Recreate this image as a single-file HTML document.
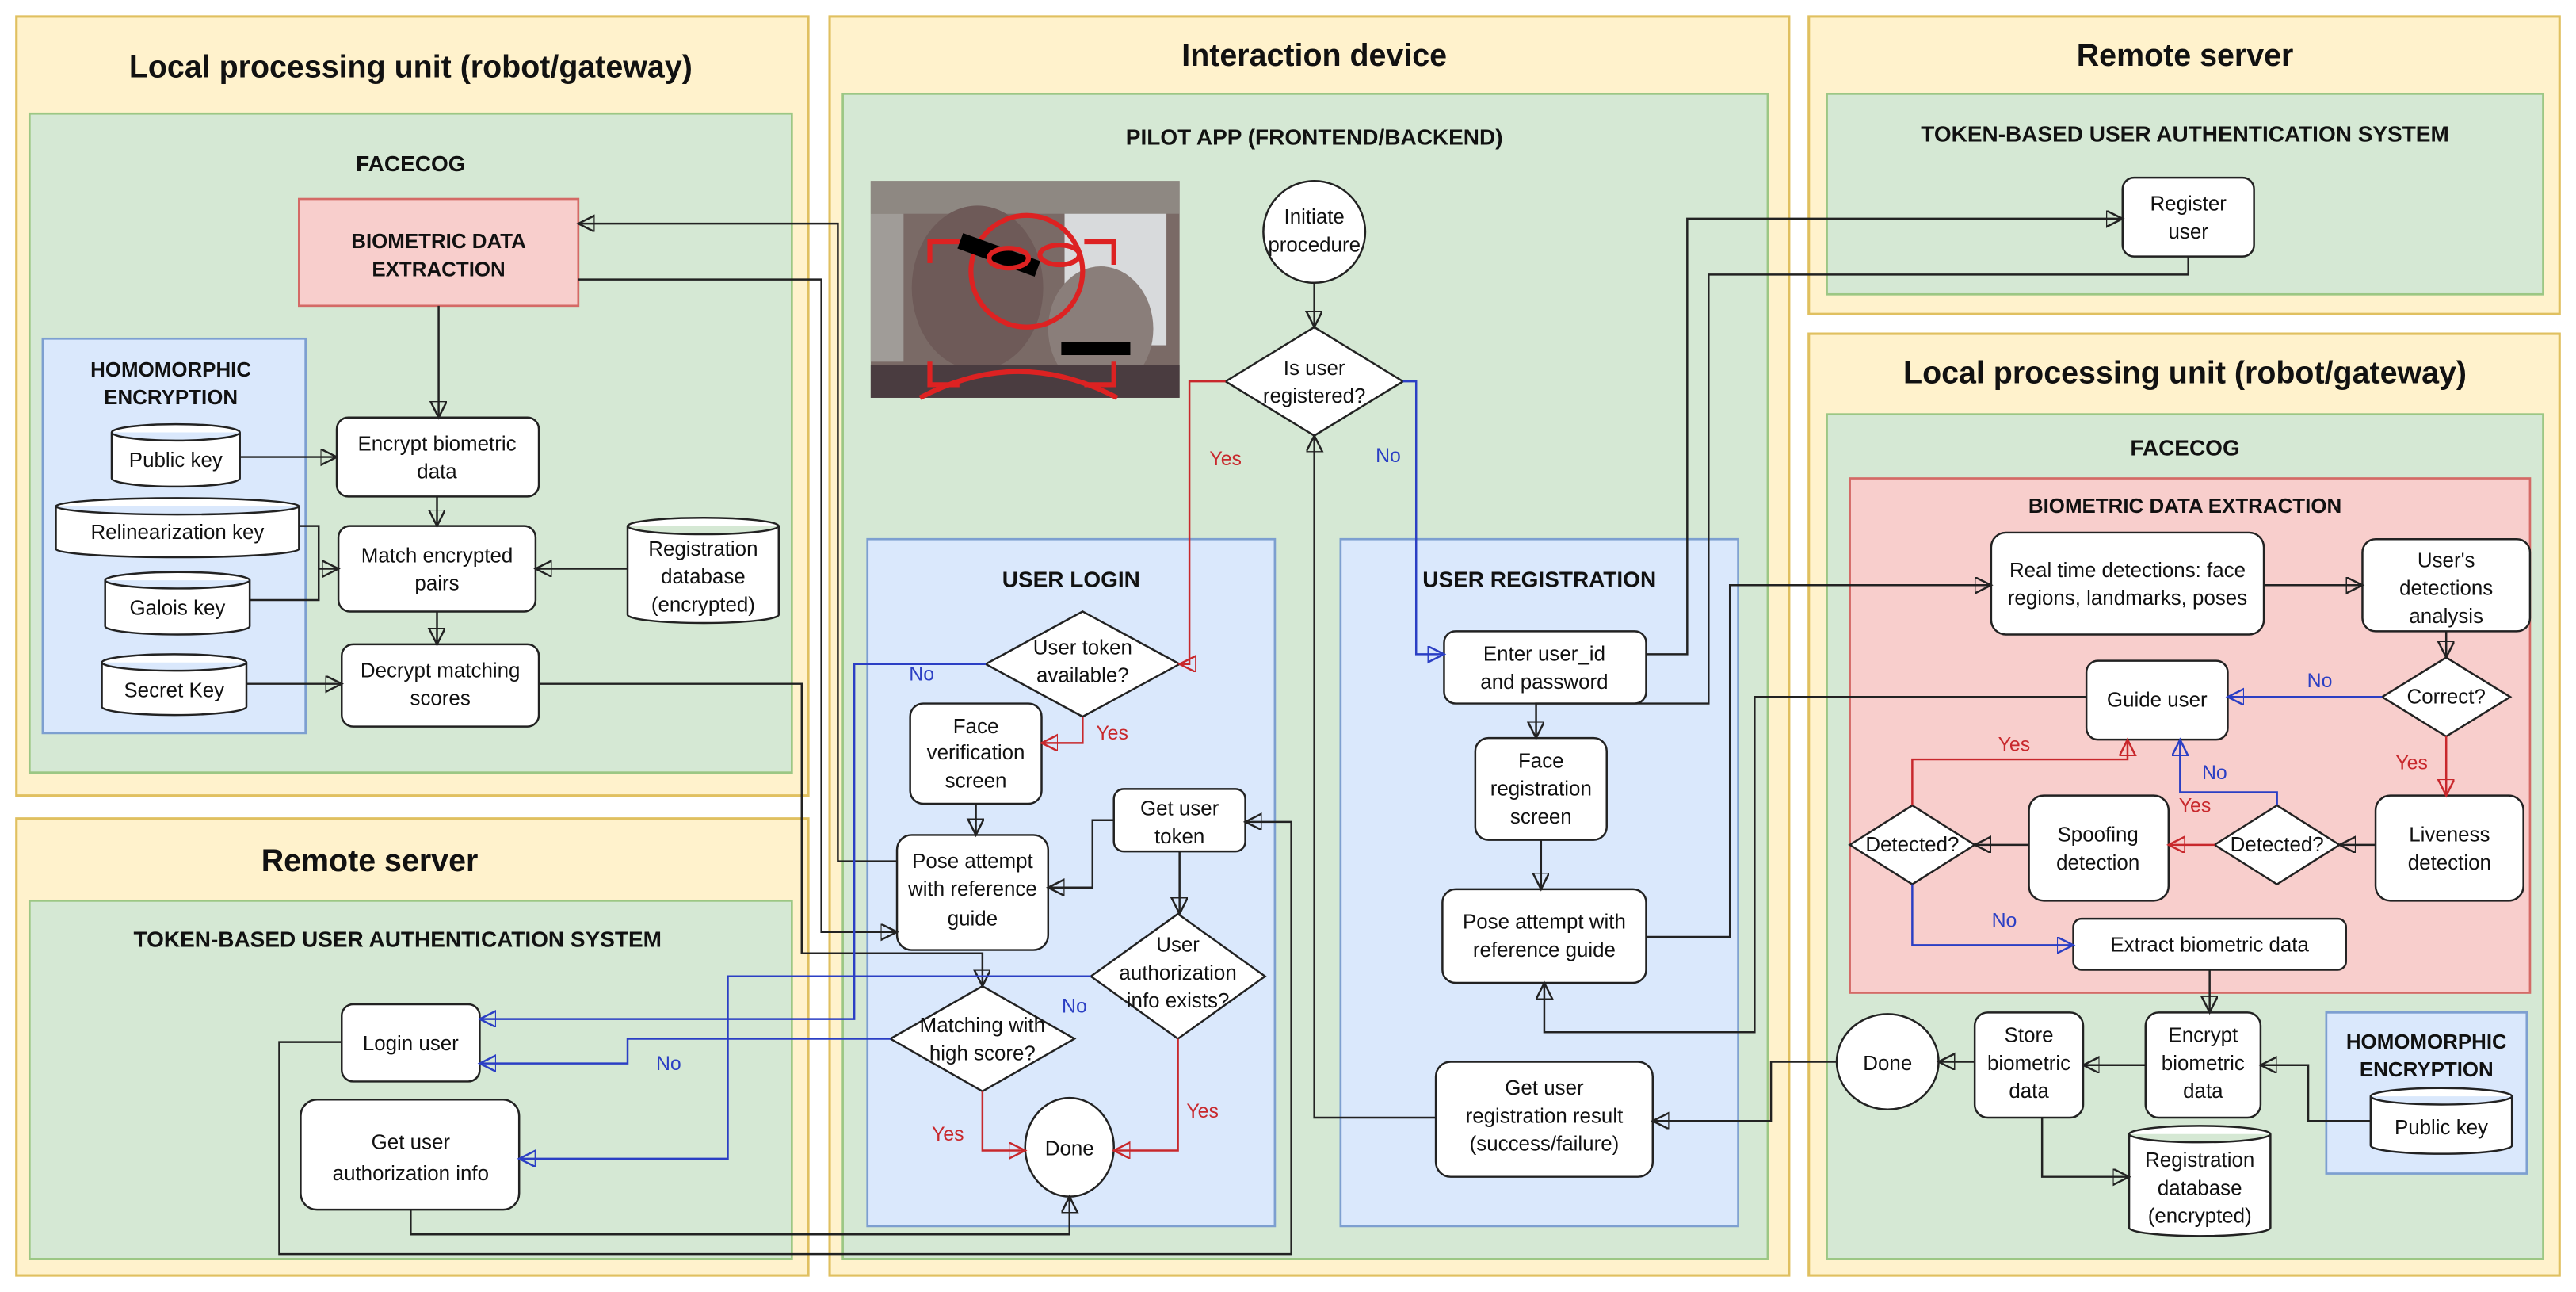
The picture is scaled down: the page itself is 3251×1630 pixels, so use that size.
<!DOCTYPE html>
<html><head><meta charset="utf-8"><style>
html,body{margin:0;padding:0;background:#fff}
svg{display:block}
text{font-family:"Liberation Sans",Arial,sans-serif;fill:#111;text-anchor:middle}
.t1{font-size:19px;font-weight:bold}
.t2{font-size:13.5px;font-weight:bold}
.n{font-size:12.5px}
.y{fill:#c8282c;font-size:12px}
.b{fill:#2b3fc4;font-size:12px}
.yel{fill:#fff2cc;stroke:#e0c060;stroke-width:1.5}
.grn{fill:#d5e8d4;stroke:#9cc784;stroke-width:1.3}
.blu{fill:#dae8fc;stroke:#7d9fd0;stroke-width:1.3}
.pnk{fill:#f8cecc;stroke:#d46a66;stroke-width:1.3}
.nd{fill:#fff;stroke:#222;stroke-width:1.2}
.k{fill:none;stroke:#222;stroke-width:1.2}
.kr{fill:none;stroke:#c8282c;stroke-width:1.2}
.kb{fill:none;stroke:#2b3fc4;stroke-width:1.2}
</style></head><body>
<svg width="3251" height="1630" viewBox="0 0 1568 786" xmlns="http://www.w3.org/2000/svg">
<defs>
<marker id="a" markerUnits="userSpaceOnUse" markerWidth="14" markerHeight="14" refX="10" refY="5" orient="auto"><path d="M0,0 L10,5 L0,10 Z" fill="none" stroke="#222" stroke-width="1.2"/></marker>
<marker id="ar" markerUnits="userSpaceOnUse" markerWidth="14" markerHeight="14" refX="10" refY="5" orient="auto"><path d="M0,0 L10,5 L0,10 Z" fill="none" stroke="#c8282c" stroke-width="1.2"/></marker>
<marker id="ab" markerUnits="userSpaceOnUse" markerWidth="14" markerHeight="14" refX="10" refY="5" orient="auto"><path d="M0,0 L10,5 L0,10 Z" fill="none" stroke="#2b3fc4" stroke-width="1.2"/></marker>
</defs>

<!-- LEFT TOP -->
<rect class="yel" x="10" y="10" width="482" height="474"/>
<text class="t1" x="250" y="47">Local processing unit (robot/gateway)</text>
<rect class="grn" x="18" y="69" width="464" height="401"/>
<text class="t2" x="250" y="104">FACECOG</text>
<rect class="pnk" x="182" y="121" width="170" height="65"/>
<text class="t2" x="267" y="151" style="font-size:12.5px">BIOMETRIC DATA</text>
<text class="t2" x="267" y="168" style="font-size:12.5px">EXTRACTION</text>
<rect class="blu" x="26" y="206" width="160" height="240"/>
<text class="t2" x="104" y="229" style="font-size:12.5px">HOMOMORPHIC</text>
<text class="t2" x="104" y="246" style="font-size:12.5px">ENCRYPTION</text>
<path class="nd" d="M68,263 a39,5 0 0 1 78,0 v28 a39,5 0 0 1 -78,0 Z M68,263 a39,5 0 0 0 78,0"/>
<text class="n" x="107" y="284">Public key</text>
<path class="nd" d="M34,308 a74,5 0 0 1 148,0 v26 a74,5 0 0 1 -148,0 Z M34,308 a74,5 0 0 0 148,0"/>
<text class="n" x="108" y="328">Relinearization key</text>
<path class="nd" d="M64,353 a44,5 0 0 1 88,0 v28 a44,5 0 0 1 -88,0 Z M64,353 a44,5 0 0 0 88,0"/>
<text class="n" x="108" y="374">Galois key</text>
<path class="nd" d="M62,403 a44,5 0 0 1 88,0 v27 a44,5 0 0 1 -88,0 Z M62,403 a44,5 0 0 0 88,0"/>
<text class="n" x="106" y="424">Secret Key</text>
<rect class="nd" x="205" y="254" width="123" height="48" rx="7"/>
<text class="n" x="266" y="274">Encrypt biometric</text><text class="n" x="266" y="291">data</text>
<rect class="nd" x="206" y="320" width="120" height="52" rx="7"/>
<text class="n" x="266" y="342">Match encrypted</text><text class="n" x="266" y="359">pairs</text>
<rect class="nd" x="208" y="392" width="120" height="50" rx="7"/>
<text class="n" x="268" y="412">Decrypt matching</text><text class="n" x="268" y="429">scores</text>
<path class="nd" d="M382,320 a46,5 0 0 1 92,0 v54 a46,5 0 0 1 -92,0 Z M382,320 a46,5 0 0 0 92,0"/>
<text class="n" x="428" y="338">Registration</text><text class="n" x="428" y="355">database</text><text class="n" x="428" y="372">(encrypted)</text>

<!-- LEFT BOTTOM -->
<rect class="yel" x="10" y="498" width="482" height="278"/>
<text class="t1" x="225" y="530">Remote server</text>
<rect class="grn" x="18" y="548" width="464" height="218"/>
<text class="t2" x="242" y="576">TOKEN-BASED USER AUTHENTICATION SYSTEM</text>
<rect class="nd" x="208" y="611" width="84" height="47" rx="7"/>
<text class="n" x="250" y="639">Login user</text>
<rect class="nd" x="183" y="669" width="133" height="67" rx="10"/>
<text class="n" x="250" y="699">Get user</text><text class="n" x="250" y="718">authorization info</text>

<!-- MIDDLE -->
<rect class="yel" x="505" y="10" width="584" height="766"/>
<text class="t1" x="800" y="40">Interaction device</text>
<rect class="grn" x="513" y="57" width="563" height="709"/>
<text class="t2" x="800" y="88">PILOT APP (FRONTEND/BACKEND)</text>
<rect x="530" y="110" width="188" height="132" fill="#7a6a66"/>
<rect x="530" y="110" width="188" height="20" fill="#8e8882"/>
<rect x="648" y="130" width="62" height="80" fill="#d8dadc"/>
<rect x="530" y="130" width="20" height="90" fill="#a09c98"/>
<ellipse cx="595" cy="175" rx="40" ry="50" fill="#6e5a58"/>
<ellipse cx="670" cy="200" rx="32" ry="38" fill="#8a7e7a"/>
<rect x="530" y="222" width="188" height="20" fill="#4a3c40"/>
<circle cx="625" cy="165" r="34" fill="none" stroke="#d22" stroke-width="3"/>
<path d="M566,160 v-13 h18 M660,147 h18 v14 M566,220 v14 h18 M678,220 v14 h-18" fill="none" stroke="#d22" stroke-width="3"/>
<path d="M560,242 Q620,210 680,242" fill="none" stroke="#d22" stroke-width="3"/>
<rect x="583" y="150" width="50" height="10" fill="#000" transform="rotate(20 608 155)"/>
<rect x="646" y="208" width="42" height="8" fill="#000"/>
<ellipse cx="614" cy="157" rx="12" ry="6" fill="none" stroke="#d22" stroke-width="3"/>
<ellipse cx="645" cy="155" rx="12" ry="6" fill="none" stroke="#d22" stroke-width="3"/>

<circle class="nd" cx="800" cy="141" r="31"/>
<text class="n" x="800" y="136">Initiate</text><text class="n" x="800" y="153">procedure</text>
<path class="nd" d="M800,199 L854,232 L800,265 L746,232 Z"/>
<text class="n" x="800" y="228">Is user</text><text class="n" x="800" y="245">registered?</text>

<rect class="blu" x="528" y="328" width="248" height="418"/>
<text class="t2" x="652" y="357">USER LOGIN</text>
<path class="nd" d="M659,372 L718,404 L659,436 L600,404 Z"/>
<text class="n" x="659" y="398">User token</text><text class="n" x="659" y="415">available?</text>
<rect class="nd" x="554" y="428" width="80" height="61" rx="8"/>
<text class="n" x="594" y="446">Face</text><text class="n" x="594" y="462">verification</text><text class="n" x="594" y="479">screen</text>
<rect class="nd" x="546" y="508" width="92" height="70" rx="9"/>
<text class="n" x="592" y="528">Pose attempt</text><text class="n" x="592" y="545">with reference</text><text class="n" x="592" y="563">guide</text>
<rect class="nd" x="678" y="480" width="80" height="38" rx="6"/>
<text class="n" x="718" y="496">Get user</text><text class="n" x="718" y="513">token</text>
<path class="nd" d="M717,556 L770,594 L717,632 L664,594 Z"/>
<text class="n" x="717" y="579">User</text><text class="n" x="717" y="596">authorization</text><text class="n" x="717" y="613">info exists?</text>
<path class="nd" d="M598,600 L654,632 L598,664 L542,632 Z"/>
<text class="n" x="598" y="628">Matching with</text><text class="n" x="598" y="645">high score?</text>
<ellipse class="nd" cx="651" cy="698" rx="27" ry="30"/>
<text class="n" x="651" y="703">Done</text>

<rect class="blu" x="816" y="328" width="242" height="418"/>
<text class="t2" x="937" y="357">USER REGISTRATION</text>
<rect class="nd" x="879" y="384" width="123" height="44" rx="7"/>
<text class="n" x="940" y="402">Enter user_id</text><text class="n" x="940" y="419">and password</text>
<rect class="nd" x="898" y="449" width="80" height="62" rx="8"/>
<text class="n" x="938" y="467">Face</text><text class="n" x="938" y="484">registration</text><text class="n" x="938" y="501">screen</text>
<rect class="nd" x="878" y="541" width="124" height="57" rx="8"/>
<text class="n" x="940" y="565">Pose attempt with</text><text class="n" x="940" y="582">reference guide</text>
<rect class="nd" x="874" y="646" width="132" height="70" rx="9"/>
<text class="n" x="940" y="666">Get user</text><text class="n" x="940" y="683">registration result</text><text class="n" x="940" y="700">(success/failure)</text>

<!-- RIGHT TOP -->
<rect class="yel" x="1101" y="10" width="457" height="181"/>
<text class="t1" x="1330" y="40">Remote server</text>
<rect class="grn" x="1112" y="57" width="436" height="122"/>
<text class="t2" x="1330" y="86">TOKEN-BASED USER AUTHENTICATION SYSTEM</text>
<rect class="nd" x="1292" y="108" width="80" height="48" rx="7"/>
<text class="n" x="1332" y="128">Register</text><text class="n" x="1332" y="145">user</text>

<!-- RIGHT BOTTOM -->
<rect class="yel" x="1101" y="203" width="457" height="573"/>
<text class="t1" x="1330" y="233">Local processing unit (robot/gateway)</text>
<rect class="grn" x="1112" y="252" width="436" height="514"/>
<text class="t2" x="1330" y="277">FACECOG</text>
<rect class="pnk" x="1126" y="291" width="414" height="313"/>
<text class="t2" x="1330" y="312" style="font-size:12.5px">BIOMETRIC DATA EXTRACTION</text>
<rect class="nd" x="1212" y="324" width="166" height="62" rx="9"/>
<text class="n" x="1295" y="351">Real time detections: face</text><text class="n" x="1295" y="368">regions, landmarks, poses</text>
<rect class="nd" x="1438" y="328" width="102" height="56" rx="8"/>
<text class="n" x="1489" y="345">User's</text><text class="n" x="1489" y="362">detections</text><text class="n" x="1489" y="379">analysis</text>
<path class="nd" d="M1489,400 L1528,424 L1489,448 L1450,424 Z"/>
<text class="n" x="1489" y="428">Correct?</text>
<rect class="nd" x="1270" y="402" width="86" height="48" rx="7"/>
<text class="n" x="1313" y="430">Guide user</text>
<rect class="nd" x="1446" y="484" width="90" height="64" rx="9"/>
<text class="n" x="1491" y="512">Liveness</text><text class="n" x="1491" y="529">detection</text>
<path class="nd" d="M1386,490 L1424,514 L1386,538 L1348,514 Z"/>
<text class="n" x="1386" y="518">Detected?</text>
<rect class="nd" x="1235" y="484" width="85" height="64" rx="9"/>
<text class="n" x="1277" y="512">Spoofing</text><text class="n" x="1277" y="529">detection</text>
<path class="nd" d="M1164,490 L1202,514 L1164,538 L1126,514 Z"/>
<text class="n" x="1164" y="518">Detected?</text>
<rect class="nd" x="1262" y="559" width="166" height="31" rx="5"/>
<text class="n" x="1345" y="579">Extract biometric data</text>
<ellipse class="nd" cx="1149" cy="646" rx="31" ry="29"/>
<text class="n" x="1149" y="651">Done</text>
<rect class="nd" x="1202" y="616" width="66" height="64" rx="8"/>
<text class="n" x="1235" y="634">Store</text><text class="n" x="1235" y="651">biometric</text><text class="n" x="1235" y="668">data</text>
<rect class="nd" x="1306" y="616" width="70" height="64" rx="8"/>
<text class="n" x="1341" y="634">Encrypt</text><text class="n" x="1341" y="651">biometric</text><text class="n" x="1341" y="668">data</text>
<rect class="blu" x="1416" y="616" width="122" height="98"/>
<text class="t2" x="1477" y="638" style="font-size:12.5px">HOMOMORPHIC</text>
<text class="t2" x="1477" y="655" style="font-size:12.5px">ENCRYPTION</text>
<path class="nd" d="M1443,667 a43,5 0 0 1 86,0 v30 a43,5 0 0 1 -86,0 Z M1443,667 a43,5 0 0 0 86,0"/>
<text class="n" x="1486" y="690">Public key</text>
<path class="nd" d="M1296,690 a43,5 0 0 1 86,0 v57 a43,5 0 0 1 -86,0 Z M1296,690 a43,5 0 0 0 86,0"/>
<text class="n" x="1339" y="710">Registration</text><text class="n" x="1339" y="727">database</text><text class="n" x="1339" y="744">(encrypted)</text>

<!-- CONNECTORS LEFT -->
<path class="k" d="M267,186 V254" marker-end="url(#a)"/>
<path class="k" d="M266,302 V320" marker-end="url(#a)"/>
<path class="k" d="M266,372 V392" marker-end="url(#a)"/>
<path class="k" d="M146,278 H205" marker-end="url(#a)"/>
<path class="k" d="M182,320 H194 V365 H152 M194,346 H206" marker-end="url(#a)"/>
<path class="k" d="M382,346 H326" marker-end="url(#a)"/>
<path class="k" d="M150,416 H208" marker-end="url(#a)"/>
<path class="k" d="M546,524 H510 V136 H352" marker-end="url(#a)"/>
<path class="k" d="M352,170 H500 V567 H546" marker-end="url(#a)"/>
<path class="k" d="M328,416 H488 V580 H598 V600" marker-end="url(#a)"/>
<path class="kb" d="M600,404 H520 V620 H292" marker-end="url(#ab)"/>
<text class="b" x="561" y="414">No</text>
<path class="kb" d="M542,632 H382 V647 H292" marker-end="url(#ab)"/>
<text class="b" x="407" y="651">No</text>
<path class="kb" d="M664,594 H443 V705 H316" marker-end="url(#ab)"/>
<text class="b" x="654" y="616">No</text>
<path class="k" d="M208,634 H170 V763 H786 V500 H758" marker-end="url(#a)"/>
<path class="k" d="M250,736 V751 H651 V728" marker-end="url(#a)"/>
<path class="k" d="M800,172 V199" marker-end="url(#a)"/>
<path class="kr" d="M746,232 H724 V404 H718" marker-end="url(#ar)"/>
<text class="y" x="746" y="283">Yes</text>
<path class="kb" d="M854,232 H862 V398 H879" marker-end="url(#ab)"/>
<text class="b" x="845" y="281">No</text>
<path class="kr" d="M659,436 V452 H634" marker-end="url(#ar)"/>
<text class="y" x="677" y="450">Yes</text>
<path class="k" d="M594,489 V508" marker-end="url(#a)"/>
<path class="k" d="M678,499 H665 V540 H638" marker-end="url(#a)"/>
<path class="k" d="M718,518 V556" marker-end="url(#a)"/>
<path class="kr" d="M717,632 V700 H678" marker-end="url(#ar)"/>
<text class="y" x="732" y="680">Yes</text>
<path class="kr" d="M598,664 V700 H624" marker-end="url(#ar)"/>
<text class="y" x="577" y="694">Yes</text>
<path class="k" d="M1002,398 H1027 V133 H1292" marker-end="url(#a)"/>
<path class="k" d="M1332,156 V167 H1040 V428 H935 V449" marker-end="url(#a)"/>
<path class="k" d="M938,511 V541" marker-end="url(#a)"/>
<path class="k" d="M1002,570 H1053 V356 H1212" marker-end="url(#a)"/>
<path class="k" d="M1270,424 H1068 V628 H940 V598" marker-end="url(#a)"/>
<path class="k" d="M1118,646 H1078 V682 H1006" marker-end="url(#a)"/>
<path class="k" d="M874,680 H800 V265" marker-end="url(#a)"/>
<path class="k" d="M1378,356 H1438" marker-end="url(#a)"/>
<path class="k" d="M1489,384 V400" marker-end="url(#a)"/>
<path class="kb" d="M1450,424 H1356" marker-end="url(#ab)"/>
<text class="b" x="1412" y="418">No</text>
<path class="kr" d="M1489,448 V484" marker-end="url(#ar)"/>
<text class="y" x="1468" y="468">Yes</text>
<path class="k" d="M1446,514 H1424" marker-end="url(#a)"/>
<path class="kr" d="M1348,514 H1320" marker-end="url(#ar)"/>
<text class="y" x="1336" y="494">Yes</text>
<path class="kb" d="M1386,490 V482 H1327 V450" marker-end="url(#ab)"/>
<text class="b" x="1348" y="474">No</text>
<path class="k" d="M1235,514 H1202" marker-end="url(#a)"/>
<path class="kr" d="M1164,490 V462 H1295 V450" marker-end="url(#ar)"/>
<text class="y" x="1226" y="457">Yes</text>
<path class="kb" d="M1164,538 V575 H1262" marker-end="url(#ab)"/>
<text class="b" x="1220" y="564">No</text>
<path class="k" d="M1345,590 V616" marker-end="url(#a)"/>
<path class="k" d="M1306,648 H1268" marker-end="url(#a)"/>
<path class="k" d="M1202,646 H1180" marker-end="url(#a)"/>
<path class="k" d="M1243,680 V716 H1296" marker-end="url(#a)"/>
<path class="k" d="M1443,682 H1405 V648 H1376" marker-end="url(#a)"/>
</svg>
</body></html>
